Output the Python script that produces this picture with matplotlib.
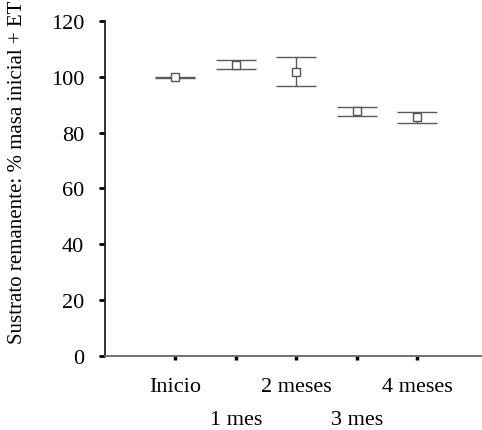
import matplotlib
matplotlib.use("Agg")
import matplotlib.pyplot as plt

categories = ["Inicio", "1 mes", "2 meses", "3 mes", "4 meses"]
means = [99.8, 104.4, 101.9, 87.6, 85.5]
errors = [0.05, 1.7, 5.2, 1.55, 2.0]

plt.rcParams['font.family'] = ['Liberation Serif', 'DejaVu Serif']

fig = plt.figure(figsize=(4.82, 4.31), dpi=100)
ax = fig.add_axes([0.2178, 0.1717, 0.7822, 0.7773])

x = list(range(len(categories)))
ax.errorbar(x, means, yerr=errors, fmt='s', mfc='white', mec='#555555',
            ms=5.5, mew=1.0, ecolor='#5a5a5a', elinewidth=1.0,
            capsize=14.5, capthick=1.0)

ax.set_xlim(-1.16, 5.07)
ax.set_ylim(0, 120)
ax.set_yticks(range(0, 121, 20))
ax.tick_params(axis='y', labelsize=16, length=4, width=2, direction='out', pad=11)
ax.set_xticks(x)
labels = [c if i % 2 == 0 else "\n" + c for i, c in enumerate(categories)]
ax.set_xticklabels(labels, fontsize=16, linespacing=2.0)
ax.tick_params(axis='x', length=3, width=2.5, direction='out', pad=12)

ax.spines['top'].set_visible(False)
ax.spines['right'].set_visible(False)
ax.spines['left'].set_color('#222222')
ax.spines['bottom'].set_color('#666666')
ax.spines['left'].set_linewidth(1.3)
ax.spines['bottom'].set_linewidth(1.3)

ax.set_ylabel("Sustrato remanente: % masa inicial + ET", fontsize=15)
ax.yaxis.set_label_coords(-0.207, 0.55)

fig.savefig("out.png", dpi=100)
